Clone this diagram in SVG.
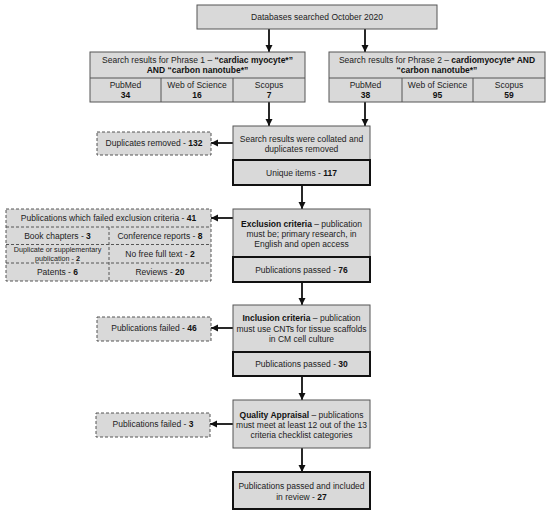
<svg xmlns="http://www.w3.org/2000/svg" width="550" height="516" viewBox="0 0 550 516">
<style>
text{font-family:"Liberation Sans",Arial,sans-serif;font-size:8.5px;fill:#222;text-anchor:middle}
.b{font-weight:bold;fill:#111}
.sm{font-size:7.2px}
.box{fill:#d9d9d9;stroke:#555;stroke-width:1}
.thick{fill:#d9d9d9;stroke:#111;stroke-width:2}
.dash{fill:#d9d9d9;stroke:#555;stroke-width:1;stroke-dasharray:3,2}
.ln{stroke:#555;stroke-width:1;fill:none}
.dl{stroke:#555;stroke-width:1;fill:none;stroke-dasharray:3,2}
.c{stroke:#111;stroke-width:1.8;fill:none;marker-end:url(#ah)}
</style>
<defs>
<marker id="ah" viewBox="0 0 10 10" refX="10" refY="5" markerWidth="4" markerHeight="4" orient="auto" markerUnits="strokeWidth">
<path d="M0,0 L10,5 L0,10 z" fill="#111"/>
</marker>
</defs>
<rect width="550" height="516" fill="#fff"/>
<g id="connectors">
<line class="c" x1="269" y1="29" x2="269" y2="52"/>
<line class="c" x1="365" y1="29" x2="365" y2="52"/>
<line class="c" x1="269" y1="102" x2="269" y2="126"/>
<line class="c" x1="365" y1="102" x2="365" y2="126"/>
<line class="c" x1="233" y1="143" x2="211" y2="143"/>
<line class="c" x1="302" y1="185" x2="302" y2="209"/>
<line class="c" x1="233" y1="218" x2="211" y2="218"/>
<line class="c" x1="302" y1="282" x2="302" y2="305"/>
<line class="c" x1="233" y1="328" x2="211" y2="328"/>
<line class="c" x1="302" y1="376" x2="302" y2="400"/>
<line class="c" x1="233" y1="424" x2="210" y2="424"/>
<line class="c" x1="302" y1="448" x2="302" y2="472"/>
</g>
<g id="databases">
<rect class="box" x="197" y="5" width="240" height="24"/>
<text x="317" y="20">Databases searched October 2020</text>
</g>
<g id="phase1">
<rect class="box" x="90" y="52" width="215" height="50"/>
<line class="ln" x1="90" y1="78" x2="305" y2="78"/>
<line class="ln" x1="161" y1="78" x2="161" y2="102"/>
<line class="ln" x1="233" y1="78" x2="233" y2="102"/>
<text x="197.5" y="62.5">Search results for Phrase 1 – <tspan class="b">“cardiac myocyte*”</tspan></text>
<text x="197.5" y="73" class="b">AND “carbon nanotube*”</text>
<text x="125.5" y="87.5">PubMed</text>
<text x="125.5" y="97.5" class="b">34</text>
<text x="197" y="87.5">Web of Science</text>
<text x="197" y="97.5" class="b">16</text>
<text x="269" y="87.5">Scopus</text>
<text x="269" y="97.5" class="b">7</text>
</g>
<g id="phase2">
<rect class="box" x="329" y="52" width="216" height="50"/>
<line class="ln" x1="329" y1="78" x2="545" y2="78"/>
<line class="ln" x1="402" y1="78" x2="402" y2="102"/>
<line class="ln" x1="473" y1="78" x2="473" y2="102"/>
<text x="437" y="62.5">Search results for Phrase 2 – <tspan class="b">cardiomyocyte* AND</tspan></text>
<text x="437" y="73" class="b">“carbon nanotube*”</text>
<text x="365.5" y="87.5">PubMed</text>
<text x="365.5" y="97.5" class="b">38</text>
<text x="437.5" y="87.5">Web of Science</text>
<text x="437.5" y="97.5" class="b">95</text>
<text x="509" y="87.5">Scopus</text>
<text x="509" y="97.5" class="b">59</text>
</g>
<g id="collated">
<rect class="box" x="233" y="126" width="137" height="34"/>
<text x="301.5" y="141.5">Search results were collated and</text>
<text x="301.5" y="152">duplicates removed</text>
</g>
<g id="unique">
<rect class="thick" x="233" y="160" width="137" height="25"/>
<text x="301.5" y="175.5">Unique items - <tspan class="b">117</tspan></text>
</g>
<g id="duplicates">
<rect class="dash" x="97" y="132" width="114" height="23"/>
<text x="154" y="146">Duplicates removed - <tspan class="b">132</tspan></text>
</g>
<g id="exclusion">
<rect class="box" x="233" y="209" width="137" height="48"/>
<text x="301.5" y="227"><tspan class="b">Exclusion criteria</tspan> – publication</text>
<text x="301.5" y="237">must be; primary research, in</text>
<text x="301.5" y="247">English and open access</text>
</g>
<g id="passed76">
<rect class="thick" x="233" y="257" width="137" height="25"/>
<text x="301.5" y="272.5">Publications passed - <tspan class="b">76</tspan></text>
</g>
<g id="failed41">
<rect class="dash" x="6" y="209" width="205" height="72"/>
<line class="dl" x1="6" y1="227" x2="211" y2="227"/>
<line class="dl" x1="6" y1="244.5" x2="211" y2="244.5"/>
<line class="dl" x1="6" y1="263" x2="211" y2="263"/>
<line class="dl" x1="109" y1="227" x2="109" y2="281"/>
<text x="108.5" y="221">Publications which failed exclusion criteria - <tspan class="b">41</tspan></text>
<text x="57.5" y="238.5">Book chapters - <tspan class="b">3</tspan></text>
<text x="160" y="238.5">Conference reports - <tspan class="b">8</tspan></text>
<text x="57.5" y="251.5" class="sm">Duplicate or supplementary</text>
<text x="57.5" y="261" class="sm">publication - <tspan class="b">2</tspan></text>
<text x="160" y="256.5">No free full text - <tspan class="b">2</tspan></text>
<text x="57.5" y="275">Patents - <tspan class="b">6</tspan></text>
<text x="160" y="275">Reviews - <tspan class="b">20</tspan></text>
</g>
<g id="inclusion">
<rect class="box" x="233" y="305" width="137" height="47"/>
<text x="301.5" y="321"><tspan class="b">Inclusion criteria</tspan> – publication</text>
<text x="301.5" y="331.5">must use CNTs for tissue scaffolds</text>
<text x="301.5" y="342">in CM cell culture</text>
</g>
<g id="passed30">
<rect class="thick" x="233" y="352" width="137" height="24"/>
<text x="301.5" y="367">Publications passed - <tspan class="b">30</tspan></text>
</g>
<g id="failed46">
<rect class="dash" x="97" y="317" width="114" height="24"/>
<text x="154" y="331">Publications failed - <tspan class="b">46</tspan></text>
</g>
<g id="quality">
<rect class="box" x="233" y="400" width="137" height="48"/>
<text x="301.5" y="418"><tspan class="b">Quality Appraisal</tspan> – publications</text>
<text x="301.5" y="428">must meet at least 12 out of the 13</text>
<text x="301.5" y="438">criteria checklist categories</text>
</g>
<g id="failed3">
<rect class="dash" x="96" y="413" width="114" height="24"/>
<text x="153" y="427">Publications failed - <tspan class="b">3</tspan></text>
</g>
<g id="final">
<rect class="thick" x="233" y="472" width="137" height="37"/>
<text x="301.5" y="489">Publications passed and included</text>
<text x="301.5" y="499.5">in review - <tspan class="b">27</tspan></text>
</g>
</svg>
